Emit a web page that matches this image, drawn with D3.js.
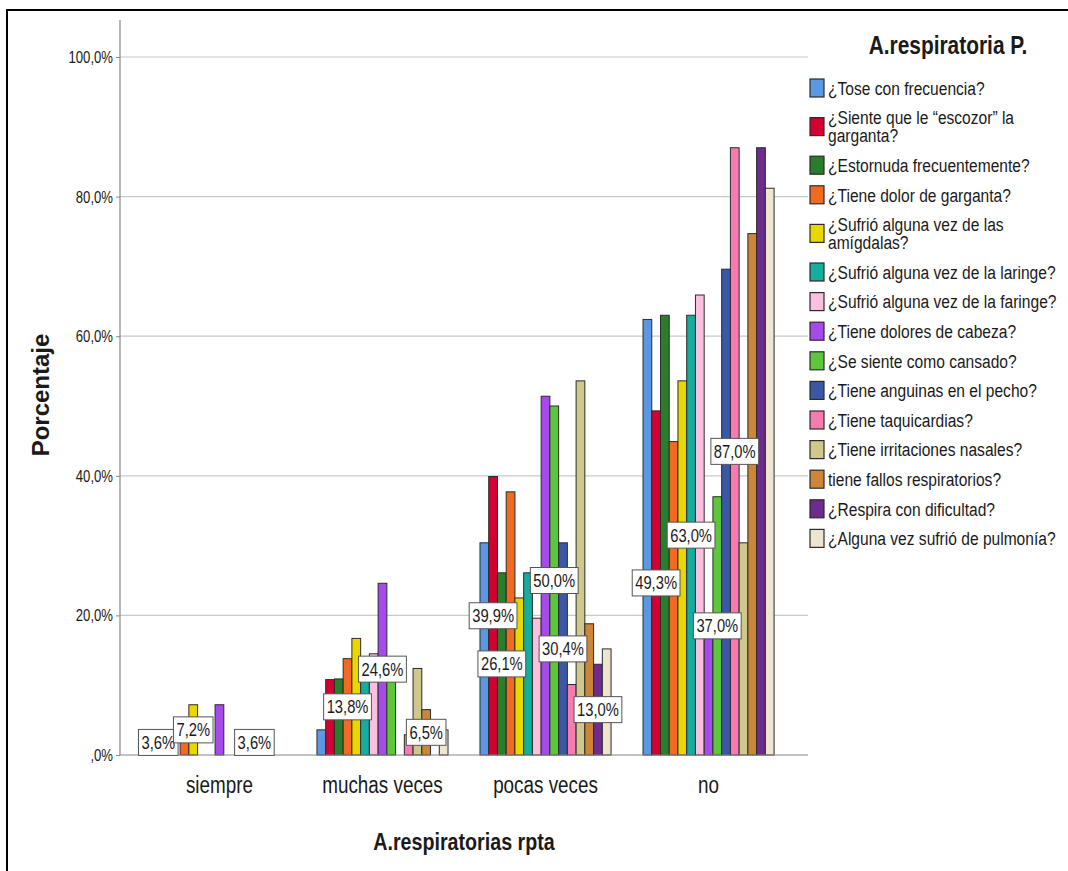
<!DOCTYPE html>
<html>
<head>
<meta charset="utf-8">
<script src="https://cdn.jsdelivr.net/npm/d3@7"></script>
<style>
  body { margin: 0; background: #fff; }
  text { font-family: "Liberation Sans", Arial, sans-serif; fill: #1a1a1a; }
</style>
</head>
<body>
<script>
var w = 1068;
var h = 871;

// categories on the x axis
var categories = ["siempre", "muchas veces", "pocas veces", "no"];

// legend entries (one bar per entry in every category)
var series = [
  "¿Tose con frecuencia?",
  "¿Siente que le “escozor” la garganta?",
  "¿Estornuda frecuentemente?",
  "¿Tiene dolor de garganta?",
  "¿Sufrió alguna vez de las amígdalas?",
  "¿Sufrió alguna vez de la laringe?",
  "¿Sufrió alguna vez de la faringe?",
  "¿Tiene dolores de cabeza?",
  "¿Se siente como cansado?",
  "¿Tiene anguinas en el pecho?",
  "¿Tiene taquicardias?",
  "¿Tiene irritaciones nasales?",
  "tiene fallos respiratorios?",
  "¿Respira con dificultad?",
  "¿Alguna vez sufrió de pulmonía?"
];

var colors = ["#5b98e4", "#d50032", "#2a7d2a", "#f26a22", "#e8d800", "#14ad9e", "#fbc0df", "#a64aec",
              "#5dc63b", "#3b58a8", "#f57bb0", "#cfc88c", "#cd8538", "#6d2c8e", "#ede5cf"];

// percentages, one row per series: siempre, muchas veces, pocas veces, no
var values = [
  [3.6, 3.6, 30.4, 62.4],
  [0, 10.8, 39.9, 49.3],
  [0, 10.9, 26.1, 63.0],
  [3.6, 13.8, 37.7, 44.9],
  [7.2, 16.7, 22.5, 53.6],
  [0, 10.9, 26.1, 63.0],
  [0, 14.5, 19.6, 65.9],
  [7.2, 24.6, 51.4, 16.8],
  [0, 13.0, 50.0, 37.0],
  [0, 0, 30.4, 69.6],
  [0, 2.9, 10.1, 87.0],
  [3.6, 12.4, 53.6, 30.4],
  [0, 6.5, 18.8, 74.7],
  [0, 0, 13.0, 87.0],
  [0, 3.6, 15.2, 81.2]
];

// which bars carry a visible value label: [series index, category index]
var labelled = [
  [0, 0], [4, 0], [11, 0],
  [3, 1], [7, 1], [12, 1],
  [1, 2], [2, 2], [8, 2], [9, 2], [13, 2],
  [1, 3], [5, 3], [8, 3], [10, 3]
];

var yTicks = [0, 20, 40, 60, 80, 100];

var margin = {left: 120, top: 20, right: 808, bottom: 755};
var narrow = 0.82;   // horizontal squeeze, the chart font is a condensed one

var svg = d3.select("body")
            .append("svg")
            .attr("width", w)
            .attr("height", h);

// condensed text helper: a group moved to (x,y) and squeezed horizontally
function ntext(parent, x, y, size, anchor) {
  return parent.append("g")
               .attr("transform", "translate(" + x + "," + y + ") scale(" + narrow + ",1)")
               .append("text")
               .attr("text-anchor", anchor || "start")
               .style("font-size", size + "px");
}

// outer frame (left and top edges only are visible)
svg.append("path")
   .attr("d", "M7,871V10H1068")
   .attr("fill", "none")
   .attr("stroke", "#000")
   .attr("stroke-width", 2);

var x0 = d3.scaleBand()
           .domain(categories)
           .range([margin.left, margin.right])
           .paddingInner(0.196)
           .paddingOuter(0.208);

var x1 = d3.scaleBand()
           .domain(d3.range(series.length))
           .range([0, x0.bandwidth()]);

var y = d3.scaleLinear()
          .domain([0, 100])
          .range([margin.bottom, 57]);

var fmt = function(v) {
  return (v === 0 ? "" : Math.floor(v)) + "," + Math.round((v % 1) * 10) + "%";
};

// grid lines
svg.append("g")
   .selectAll("line")
   .data(yTicks.filter(d => d > 0))
   .enter()
   .append("line")
   .attr("x1", margin.left)
   .attr("x2", margin.right)
   .attr("y1", d => y(d))
   .attr("y2", d => y(d))
   .attr("stroke", "#c9c9c9")
   .attr("stroke-width", 1.2);

// y axis
var yAxis = d3.axisLeft(y)
              .tickValues(yTicks)
              .tickSize(4)
              .tickFormat("");

var gy = svg.append("g")
            .attr("transform", "translate(" + margin.left + ",0)")
            .call(yAxis);
gy.select(".domain").remove();
gy.selectAll(".tick line").attr("stroke", "#888");
gy.selectAll(".tick").each(function(d) {
  ntext(d3.select(this), -7, 0, 16, "end")
    .attr("dy", "0.34em")
    .attr("fill", "#222")
    .text(fmt(d));
});

svg.append("line")
   .attr("x1", margin.left).attr("x2", margin.left)
   .attr("y1", margin.top).attr("y2", margin.bottom)
   .attr("stroke", "#888")
   .attr("stroke-width", 1.2);

// bars
var groups = svg.append("g")
                .selectAll("g")
                .data(categories)
                .enter()
                .append("g")
                .attr("transform", d => "translate(" + x0(d) + ",0)");

groups.selectAll("rect")
      .data((c, ci) => values.map((row, si) => ({s: si, v: row[ci]})))
      .enter()
      .append("rect")
      .attr("x", d => x1(d.s))
      .attr("width", x1.bandwidth())
      .attr("y", d => y(d.v))
      .attr("height", d => y(0) - y(d.v))
      .attr("fill", d => colors[d.s])
      .attr("stroke", "#2b2b2b")
      .attr("stroke-width", 1);

// x axis line
svg.append("line")
   .attr("x1", margin.left).attr("x2", margin.right)
   .attr("y1", margin.bottom).attr("y2", margin.bottom)
   .attr("stroke", "#888")
   .attr("stroke-width", 1.2);

// value labels, centred on half the bar height
var lab = svg.append("g")
             .selectAll("g")
             .data(labelled)
             .enter()
             .append("g")
             .attr("transform", d => {
               var v = values[d[0]][d[1]];
               var cx = x0(categories[d[1]]) + x1(d[0]) + x1.bandwidth() / 2;
               return "translate(" + cx + "," + y(v / 2) + ")";
             });

lab.each(function(d) {
  var g = d3.select(this);
  var r = g.append("rect")
           .attr("fill", "#fff")
           .attr("stroke", "#555")
           .attr("stroke-width", 1);
  var t = ntext(g, 0, 0, 18, "middle")
            .attr("dy", "0.36em")
            .text(fmt(values[d[0]][d[1]]));
  var tw = t.node().getComputedTextLength() * narrow;
  r.attr("x", -tw / 2 - 3)
   .attr("width", tw + 6)
   .attr("y", -13)
   .attr("height", 26);
});

// category labels
categories.forEach(function(c) {
  ntext(svg, x0(c) + x0.bandwidth() / 2, 793, 23, "middle").text(c);
});

// axis titles
ntext(svg, (margin.left + margin.right) / 2, 850, 24, "middle")
  .style("font-weight", "bold")
  .text("A.respiratorias rpta");

svg.append("text")
   .attr("transform", "translate(49,395) rotate(-90)")
   .attr("text-anchor", "middle")
   .style("font-size", "24px")
   .style("font-weight", "bold")
   .text("Porcentaje");

// legend
ntext(svg, 948, 54, 25.5, "middle")
  .style("font-weight", "bold")
  .text("A.respiratoria P.");

var lineH = 18;
var legY = 88;
series.forEach(function(name, i) {
  var g = svg.append("g");
  var t = ntext(g, 828, 0, 19);
  // simple word wrap
  var words = name.split(" ");
  var lines = [];
  var cur = "";
  words.forEach(function(wd) {
    var test = cur ? cur + " " + wd : wd;
    t.text(test);
    if (t.node().getComputedTextLength() * narrow > 238 && cur) {
      lines.push(cur);
      cur = wd;
    } else {
      cur = test;
    }
  });
  lines.push(cur);
  t.text(null);
  lines.forEach(function(ln, k) {
    t.append("tspan")
     .attr("x", 0)
     .attr("y", legY + k * lineH)
     .attr("dy", "0.36em")
     .text(ln);
  });
  var mid = legY + (lines.length - 1) * lineH / 2;
  g.insert("rect", "g")
   .attr("x", 810)
   .attr("y", mid - 9)
   .attr("width", 14)
   .attr("height", 18)
   .attr("fill", colors[i])
   .attr("stroke", "#2b2b2b")
   .attr("stroke-width", 1.2);
  legY += 29.6 + (lines.length - 1) * lineH;
});
</script>
</body>
</html>
